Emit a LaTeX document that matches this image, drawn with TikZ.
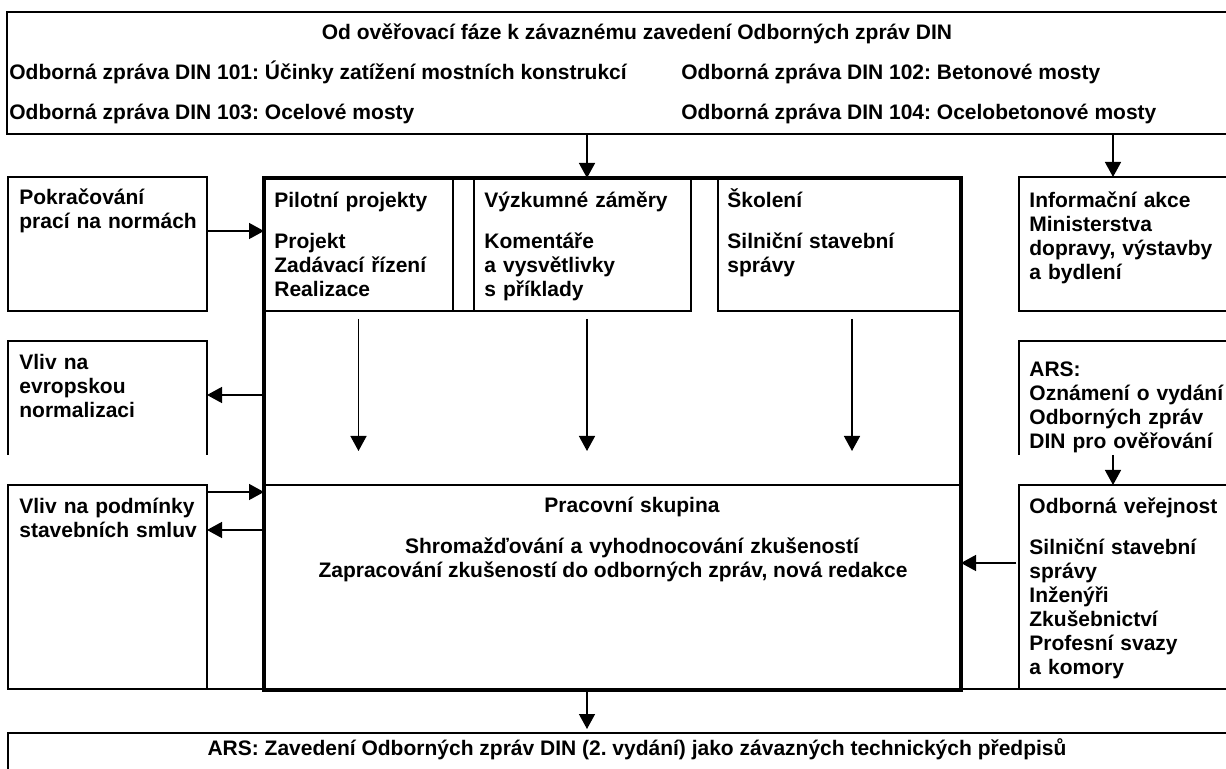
\documentclass[tikz,border=0pt]{standalone}
\usepackage{fontspec}
\setmainfont{Liberation Sans}
\frenchspacing
\usetikzlibrary{arrows.meta}

\begin{document}
\begin{tikzpicture}[
    x=0.5pt, y=-0.5pt,
    block/.style={
        rectangle,
        draw,
        line width=1pt,
        anchor=north west,
        outer sep=0pt,
        inner sep=0pt
    },
    openblock/.style={
        rectangle,
        anchor=north west,
        outer sep=0pt,
        inner sep=0pt
    },
    mainblock/.style={
        block,
        line width=2.25pt
    },
    txt/.style={
        inner sep=0pt,
        anchor=base west,
        align=left,
        font=\fontsize{10.5pt}{12pt}\selectfont\bfseries
    },
    edgeline/.style={
        line width=1pt
    },
    arrow/.style={
        -{Triangle[length=7.5pt, width=8pt]},
        line width=0.7pt
    }
]

\useasboundingbox (0,0) rectangle (1226,769);
\clip (0,0) rectangle (1226,769);

% ------------------------------------------------------------------
% TOP: REPORTS
% ------------------------------------------------------------------

\node[block, minimum width=612.5pt, minimum height=61pt] (top) at (7,12) {};

\node[txt, anchor=base] (title) at (637,40)
{Od ověřovací fáze k závaznému zavedení Odborných zpráv DIN};
\node[txt] (r101) at (9,80)
{Odborná zpráva DIN 101: Účinky zatížení mostních konstrukcí};
\node[txt] (r102) at (681,80)
{Odborná zpráva DIN 102: Betonové mosty};
\node[txt] (r103) at (9,120)
{Odborná zpráva DIN 103: Ocelové mosty};
\node[txt] (r104) at (681,120)
{Odborná zpráva DIN 104: Ocelobetonové mosty};

% ------------------------------------------------------------------
% LEFT COLUMN
% ------------------------------------------------------------------

\node[block, minimum width=99.5pt, minimum height=67pt] (pokr) at (8,177) {};
\node[txt, text width=92pt] (pokrtxt) at (19,205)
{Pokračování\\prací na normách};

\node[openblock, minimum width=99.5pt, minimum height=57pt] (evr) at (8,341) {};
\node[txt, text width=92pt] (evrtxt) at (19,370)
{Vliv na\\evropskou\\normalizaci};

\node[block, minimum width=99.5pt, minimum height=102pt] (podm) at (8,485) {};
\node[txt, text width=92pt] (podmtxt) at (19,514)
{Vliv na podmínky\\stavebních smluv};

% ------------------------------------------------------------------
% MAIN BLOCK
% ------------------------------------------------------------------

\node[block, minimum width=94.5pt, minimum height=66.5pt] (pilot) at (264,178) {};
\node[block, minimum width=10.5pt, minimum height=66.5pt] (gapbox) at (453,178) {};
\node[block, minimum width=108.5pt, minimum height=66.5pt] (vyzk) at (474,178) {};
\node[block, minimum width=121.5pt, minimum height=66.5pt] (skol) at (718,178) {};
\node[block, minimum width=348.5pt, minimum height=102.5pt] (prac) at (264,485) {};
\node[mainblock, minimum width=348.5pt, minimum height=256pt] (main) at (264,178) {};

\node[txt, text width=88pt] (pilottxt) at (274,208)
{Pilotní projekty\\[8.5pt]Projekt\\Zadávací řízení\\Realizace};
\node[txt, text width=100pt] (vyzktxt) at (484,208)
{Výzkumné záměry\\[8.5pt]Komentáře\\a vysvětlivky\\s příklady};
\node[txt, text width=110pt] (skoltxt) at (727,208)
{Školení\\[8.5pt]Silniční stavební\\správy};
\node[txt, anchor=base, align=center, text width=240pt] (practxt) at (632,513)
{Pracovní skupina\\[8.5pt]Shromažďování a vyhodnocování zkušeností};
\node[txt, anchor=base] (practxt2) at (613,578)
{Zapracování zkušeností do odborných zpráv, nová redakce};

% ------------------------------------------------------------------
% RIGHT COLUMN
% ------------------------------------------------------------------

\node[block, minimum width=106.5pt, minimum height=67pt] (info) at (1019,177) {};
\node[txt, text width=98pt] (infotxt) at (1029,208)
{Informační akce\\Ministerstva\\dopravy, výstavby\\a bydlení};

\node[openblock, minimum width=106.5pt, minimum height=57pt] (ars) at (1019,341) {};
\node[txt, text width=98pt] (arstxt) at (1029,377)
{ARS:\\Oznámení o vydání\\Odborných zpráv\\DIN pro ověřování};

\node[block, minimum width=106.5pt, minimum height=102pt] (vere) at (1019,485) {};
\node[txt, text width=98pt] (veretxt) at (1029,514)
{Odborná veřejnost\\[8.5pt]Silniční stavební\\správy\\Inženýři\\Zkušebnictví\\Profesní svazy\\a komory};

% ------------------------------------------------------------------
% BOTTOM
% ------------------------------------------------------------------

\node[block, minimum width=612pt, minimum height=30pt] (zav) at (8,733) {};
\node[txt, anchor=base] (zavtxt) at (637,755)
{ARS: Zavedení Odborných zpráv DIN (2. vydání) jako závazných technických předpisů};

% ------------------------------------------------------------------
% OPEN BOXES AND JOINING LINES
% ------------------------------------------------------------------

\draw[edgeline] (evr.south west) |- (evr.north east) -- (evr.south east);
\draw[edgeline] (ars.south west) |- (ars.north east) -- (ars.south east);
\draw[edgeline] (podm.south east) -- (podm.south east -| main.west);
\draw[edgeline] (vere.south west) -- (vere.south west -| main.east);

% ------------------------------------------------------------------
% CONNECTIONS
% ------------------------------------------------------------------

\coordinate (cx) at (587,0);
\coordinate (sx) at (852,0);
\coordinate (rx) at (1113,0);

\draw[arrow] (top.south -| cx) -- (main.north -| cx);
\draw[arrow] (top.south -| rx) -- (info.north -| rx);
\draw[arrow] (ars.south -| rx) -- (vere.north -| rx);

\draw[arrow] ([yshift=6.5pt]pokr.east) -- ([yshift=6.5pt]pokr.east -| main.west);
\draw[arrow] ([yshift=1.5pt]evr.east -| main.west) -- ([yshift=1.5pt]evr.east);
\draw[arrow] ([yshift=-3.5pt]podm.north east) -- ([yshift=-3.5pt]podm.north east -| main.west);
\draw[arrow] ([yshift=-22.5pt]podm.north east -| main.west) -- ([yshift=-22.5pt]podm.north east);
\draw[arrow] ([xshift=-1.5pt, yshift=-39pt]vere.north west) -- ([yshift=-39pt]vere.north west -| main.east);

\draw[arrow] ([yshift=-4pt]pilot.south) -- ([yshift=17pt]pilot.south |- prac.north);
\draw[arrow] ([yshift=-4pt]vyzk.south -| cx) -- ([yshift=17pt]prac.north -| cx);
\draw[arrow] ([yshift=-4pt]skol.south -| sx) -- ([yshift=17pt]prac.north -| sx);

\draw[arrow] (main.south -| cx) -- ([yshift=2pt]zav.north -| cx);

\end{tikzpicture}
\end{document}
